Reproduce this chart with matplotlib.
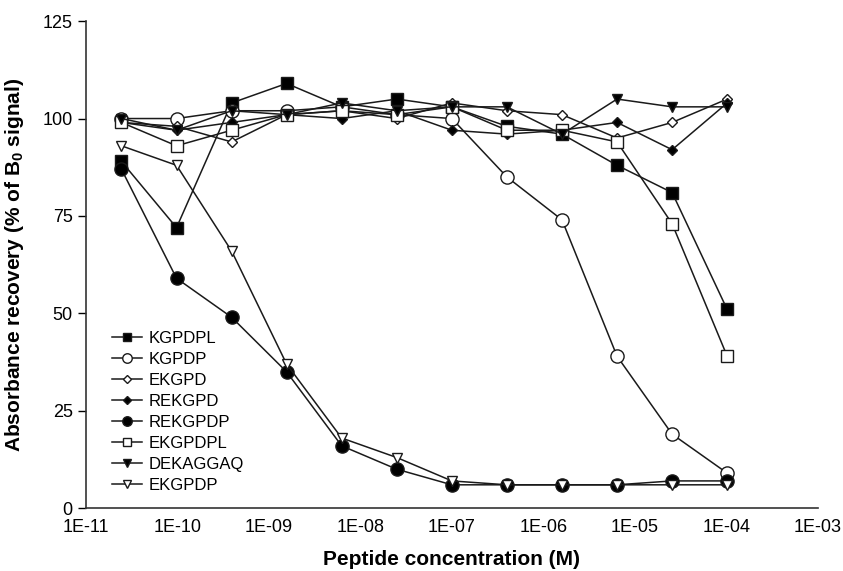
import numpy as np
import matplotlib
matplotlib.use("Agg")
import matplotlib.pyplot as plt
from matplotlib.ticker import FixedLocator, FixedFormatter, NullLocator

plt.rcParams['font.family'] = ['Liberation Sans', 'DejaVu Sans']

conc = [2.44e-11, 9.77e-11, 3.91e-10, 1.56e-9, 6.25e-9, 2.5e-8, 1.0e-7,
        4.0e-7, 1.6e-6, 6.4e-6, 2.56e-5, 1.024e-4]

KGPDPL   = [89, 72, 104, 109, 103, 105, 103, 98, 96, 88, 81, 51]
KGPDP    = [100, 100, 102, 102, 103, 101, 100, 85, 74, 39, 19, 9]
EKGPD    = [99, 98, 94, 101, 102, 100, 104, 102, 101, 95, 99, 105]
REKGPD   = [99, 97, 99, 101, 100, 102, 97, 96, 97, 99, 92, 104]
REKGPDP  = [87, 59, 49, 35, 16, 10, 6, 6, 6, 6, 7, 7]
EKGPDPL  = [99, 93, 97, 101, 102, 101, 103, 97, 97, 94, 73, 39]
DEKAGGAQ = [100, 97, 102, 101, 104, 102, 103, 103, 96, 105, 103, 103]
EKGPDP   = [93, 88, 66, 37, 18, 13, 7, 6, 6, 6, 6, 6]

series = [
    ("KGPDPL", KGPDPL, 's', 'k', 8),
    ("KGPDP", KGPDP, 'o', 'w', 9.5),
    ("EKGPD", EKGPD, 'D', 'w', 5.5),
    ("REKGPD", REKGPD, 'D', 'k', 5.5),
    ("REKGPDP", REKGPDP, 'o', 'k', 9.5),
    ("EKGPDPL", EKGPDPL, 's', 'w', 8),
    ("DEKAGGAQ", DEKAGGAQ, 'v', 'k', 7.5),
    ("EKGPDP", EKGPDP, 'v', 'w', 7.5),
]

xticks = [1e-11, 1e-10, 1e-9, 1e-8, 1e-7, 1e-6, 1e-5, 1e-4, 1e-3]
xlabels = ["1E-11", "1E-10", "1E-09", "1E-08", "1E-07", "1E-06", "1E-05", "1E-04", "1E-03"]
yticks = [0, 25, 50, 75, 100, 125]

fig = plt.figure(figsize=(8.43, 5.71), dpi=100)
ax = fig.add_axes([0.102, 0.110, 0.868, 0.853])

for name, vals, m, fc, ms in series:
    ax.plot(conc, vals, color='#1a1a1a', lw=1.1, marker=m, markersize=ms,
            markerfacecolor=fc, markeredgecolor='#1a1a1a', markeredgewidth=1.0,
            label=name)

ax.set_xscale('log')
ax.set_xlim(1e-11, 1e-3)
ax.set_ylim(0, 125)
ax.xaxis.set_major_locator(FixedLocator(xticks))
ax.xaxis.set_major_formatter(FixedFormatter(xlabels))
ax.xaxis.set_minor_locator(NullLocator())
ax.set_yticks(yticks)
ax.tick_params(axis='x', length=0, labelsize=13, pad=8)
ax.tick_params(axis='y', length=6, width=1, labelsize=13, direction='out')
for s in ['top', 'right']:
    ax.spines[s].set_visible(False)
for s in ['left', 'bottom']:
    ax.spines[s].set_linewidth(1.2)
    ax.spines[s].set_color('#333333')

ax.set_xlabel("Peptide concentration (M)", fontsize=15, fontweight='bold', labelpad=10)
ax.set_ylabel("Absorbance recovery (% of B$_\\mathregular{0}$ signal)", fontsize=15,
              fontweight='bold', labelpad=12)

leg = ax.legend(loc='lower left', bbox_to_anchor=(0.015, 0.0), frameon=False,
                fontsize=12, handlelength=1.8, handletextpad=0.4,
                labelspacing=0.36, markerscale=0.72)

fig.savefig("out.png", dpi=100)
